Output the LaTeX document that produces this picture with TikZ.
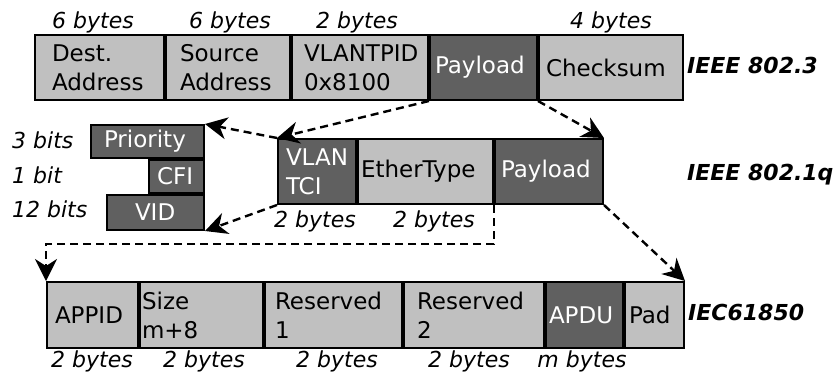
\documentclass[tikz,border=0pt]{standalone}
\usepackage{fontspec}
\setmainfont{DejaVu Sans}
\usetikzlibrary{arrows.meta,positioning}

\definecolor{lightfield}{HTML}{C0C0C0}
\definecolor{darkfield}{HTML}{606060}

\tikzset{
  field/.style={draw, line width=2pt, fill=lightfield, anchor=north west,
    align=left, minimum height=65pt, inner ysep=0pt,
    font=\fontsize{23}{29}\selectfont},
  darkbox/.style={field, fill=darkfield, text=white},
  sizelabel/.style={anchor=base, inner sep=0pt, font=\fontsize{22}{26}\selectfont\itshape},
  bitlabel/.style={sizelabel, anchor=base west},
  framename/.style={anchor=base west, inner sep=0pt, font=\fontsize{22}{26}\selectfont\bfseries\itshape},
  link/.style={line width=2.4pt, dash pattern=on 8pt off 5pt,
    -{Stealth[length=22pt,width=22pt,inset=7pt]}},
}

\begin{document}
\begin{tikzpicture}[x=1pt,y=-1pt]
    \useasboundingbox (0,0) rectangle (840,376);

    % IEEE 802.3 frame
    \node[field, text width=95pt, inner xsep=17pt] (dest) at (34,34) {Dest.\\Address};
    \node[field, text width=96pt, inner xsep=14pt] (src) at (dest.north east) {Source\\Address};
    \node[field, text width=112pt, inner xsep=12pt] (tpid) at (src.north east) {VLANTPID\\0x8100};
    \node[darkbox, text width=97pt, inner xsep=5pt] (pay) at (tpid.north east) {Payload};
    \node[field, text width=130pt, inner xsep=7pt] (chk) at (pay.north east) {Checksum};

    \node[sizelabel] (sDest) at (93,28) {6 bytes};
    \node[sizelabel] (sSrc) at (230,28) {6 bytes};
    \node[sizelabel] (sTpid) at (357,28) {2 bytes};
    \node[sizelabel] (sChk) at (611,28) {4 bytes};
    \node[framename] (n8023) at (687,73) {IEEE 802.3};

    % IEEE 802.1q frame
    \node[darkbox, text width=62pt, inner xsep=8pt] (tci) at (277,138) {VLAN\\TCI};
    \node[field, text width=129pt, inner xsep=3pt] (eth) at (tci.north east) {EtherType};
    \node[darkbox, text width=96pt, inner xsep=6pt] (qpay) at (eth.north east) {Payload};

    \node[sizelabel] (sTci) at (315,227) {2 bytes};
    \node[sizelabel] (sEth) at (434,227) {2 bytes};
    \node[framename] (n8021q) at (687,180) {IEEE 802.1q};

    % TCI bits
    \node[darkbox, minimum height=33pt, text width=87pt, inner xsep=13pt] (prio) at (90,124) {Priority};
    \node[darkbox, anchor=north east, minimum height=33pt, text width=39pt, inner xsep=8pt] (cfi) at (prio.south east) {CFI};
    \node[darkbox, anchor=north east, minimum height=35pt, text width=41pt, inner xsep=28pt] (vid) at (cfi.south east) {VID};

    \node[bitlabel] (sPrio) at (12,148) {3 bits};
    \node[bitlabel] (sCfi) at (12,183) {1 bit};
    \node[bitlabel] (sVid) at (12,217) {12 bits};

    % IEC61850 frame
    \node[field, minimum height=66pt, text width=75pt, inner xsep=8pt] (appid) at (46,281) {APPID};
    \node[field, minimum height=66pt, text width=119pt, inner xsep=2pt] (len) at (appid.north east) {Size\\m+8};
    \node[field, minimum height=66pt, text width=117pt, inner xsep=10pt] (resa) at (len.north east) {Reserved\\1};
    \node[field, minimum height=66pt, text width=114pt, inner xsep=13pt] (resb) at (resa.north east) {Reserved\\2};
    \node[darkbox, minimum height=66pt, text width=71pt, inner xsep=3pt] (apdu) at (resb.north east) {APDU};
    \node[field, minimum height=66pt, text width=51pt, inner xsep=4pt] (pad) at (apdu.north east) {Pad};

    \node[sizelabel] (sAppid) at (92,367) {2 bytes};
    \node[sizelabel] (sLen) at (204,367) {2 bytes};
    \node[sizelabel] (sResa) at (337,367) {2 bytes};
    \node[sizelabel] (sResb) at (469,367) {2 bytes};
    \node[sizelabel] (sApdu) at (582,367) {m bytes};
    \node[framename] (niec) at (688,320) {IEC61850};

    % links
    \draw[link] (pay.south west) -- (tci.north west);
    \draw[link] (pay.south east) -- (qpay.north east);
    \draw[link] (tci.north west) -- (prio.north east);
    \draw[link] (tci.south west) -- (vid.south east);
    \draw[link] (eth.south east) -- ++(0,39) -| (appid.north west);
    \draw[link] (qpay.south east) -- (pad.north east);
\end{tikzpicture}
\end{document}
